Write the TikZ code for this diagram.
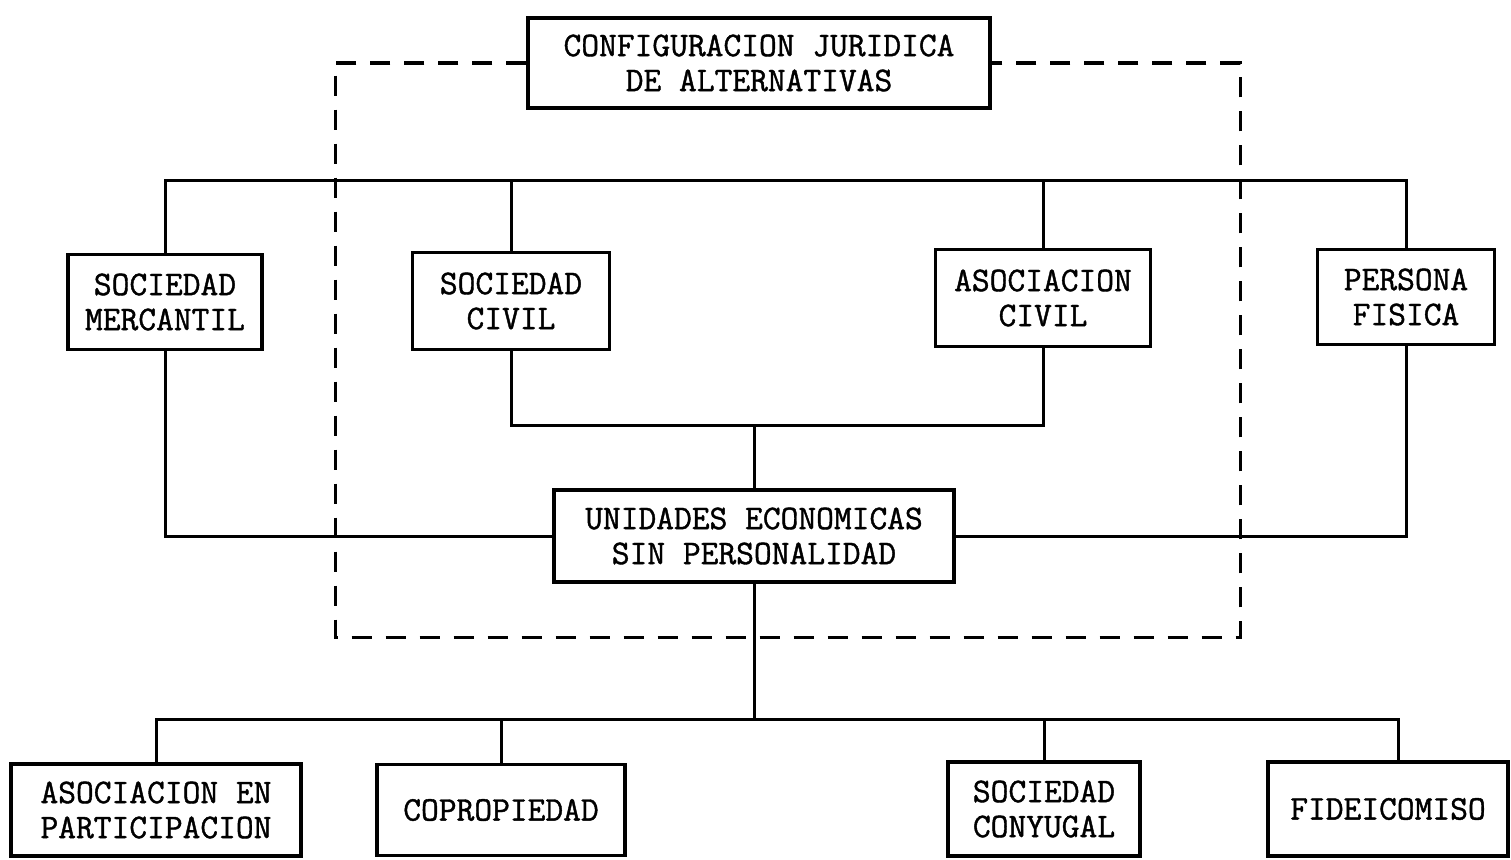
\documentclass[tikz,border=0pt]{standalone}
\usepackage{fontspec}
\setmonofont{Latin Modern Mono}[FakeBold=1.2]
\begin{document}
\begin{tikzpicture}[x=1pt,y=-1pt,
  box/.style={draw, line width=3.2pt, align=center, inner sep=0pt,
              font=\ttfamily\bfseries\fontsize{34.5}{35}\selectfont},
  link/.style={line width=3pt},
  frame/.style={line width=3pt, dash pattern=on 20pt off 14pt}]
\useasboundingbox (0,0) rectangle (1511,859);

% boxes
\node[box, minimum width=462pt, minimum height=90pt] (top)    at (759,63)    {CONFIGURACION JURIDICA\\DE ALTERNATIVAS};
\node[box, minimum width=194pt, minimum height=95pt] (merc)   at (165,302)   {SOCIEDAD\\MERCANTIL};
\node[box, minimum width=197pt, minimum height=97pt] (scivil) at (511,301)   {SOCIEDAD\\CIVIL};
\node[box, minimum width=215pt, minimum height=97pt] (acivil) at (1043,298)  {ASOCIACION\\CIVIL};
\node[box, minimum width=177pt, minimum height=95pt] (pfis)   at (1406,297)  {PERSONA\\FISICA};
\node[box, minimum width=400pt, minimum height=92pt] (unid)   at (754,536)   {UNIDADES ECONOMICAS\\SIN PERSONALIDAD};
\node[box, minimum width=290pt, minimum height=92pt] (aep)    at (156,810)   {ASOCIACION EN\\PARTICIPACION};
\node[box, minimum width=248pt, minimum height=91pt] (copro)  at (501,810)   {COPROPIEDAD};
\node[box, minimum width=192pt, minimum height=94pt] (sconv)  at (1044,809)  {SOCIEDAD\\CONYUGAL};
\node[box, minimum width=240pt, minimum height=94pt] (fidei)  at (1388,809)  {FIDEICOMISO};

% bus levels
\coordinate (tb) at (0,180);
\coordinate (mj) at (0,425);
\coordinate (bb) at (0,719);

% upper bus
\draw[link] (merc.north) -- (merc.north |- tb) -- (pfis.north |- tb) -- (pfis.north);
\draw[link] (scivil.north) -- (scivil.north |- tb);
\draw[link] (acivil.north) -- (acivil.north |- tb);

% civil entities join towards the central box
\draw[link] (scivil.south) -- (scivil.south |- mj) -| (acivil.south);
\draw[link] (unid.north) -- (unid.north |- mj);

% side links
\draw[link] (merc.south) |- (unid.west);
\draw[link] (pfis.south) |- (unid.east);

% lower bus
\draw[link] (unid.south) -- (unid.south |- bb);
\coordinate (fk) at ([xshift=10pt]fidei.north);
\draw[link] (aep.north) -- (aep.north |- bb) -- (fk |- bb) -- (fk);
\draw[link] (copro.north) -- (copro.north |- bb);
\draw[link] (sconv.north) -- (sconv.north |- bb);

% dashed frame
\coordinate (f1) at (335,63);
\coordinate (f2) at (335,637);
\coordinate (f3) at (1240,637);
\coordinate (f4) at (1240,63);
\draw[frame] (top.west) -- (f1) -- (f2) -- (f3) -- (f4) -- (top.east);
\end{tikzpicture}
\end{document}
